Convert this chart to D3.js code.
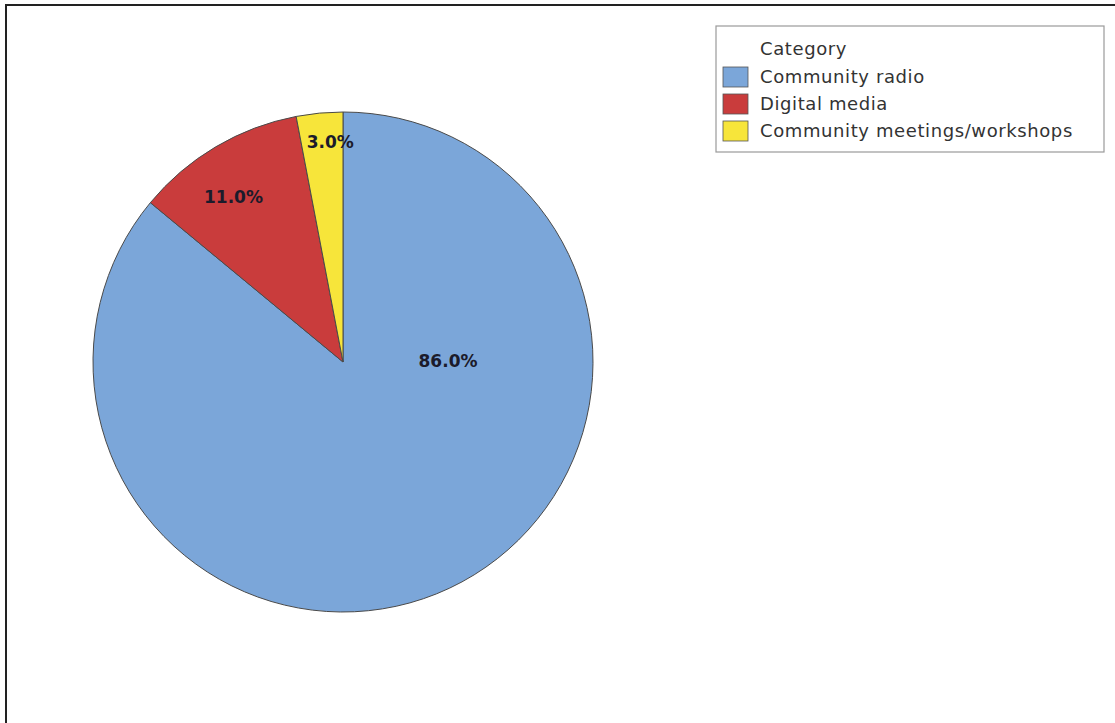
<!DOCTYPE html>
<html>
<head>
<meta charset="utf-8">
<script src="https://cdn.jsdelivr.net/npm/d3@7"></script>
<style>
  body { margin: 0; background: #fff; }
  svg { display: block; }
</style>
</head>
<body>
<script>
const w = 1115
const h = 723

// chart data
const categories = ['Community radio', 'Digital media', 'Community meetings/workshops']
const shares = [86.0, 11.0, 3.0]
const colors = ['#7ba6d9', '#c93c3c', '#f7e53a']
const legendTitle = 'Category'

const cx = 343
const cy = 362
const radius = 250

const svg = d3.select('body')
    .append('svg')
    .attr('width', w)
    .attr('height', h)

// outer frame (only top and left edges show in the picture)
svg.append('path')
    .attr('d', `M6,${h + 5} L6,5 L${w + 5},5`)
    .attr('fill', 'none')
    .attr('stroke', '#222')
    .attr('stroke-width', 2)

const pie = d3.pie()
    .sort(null)
    .value(function (d) { return d })

const arcs = pie(shares)

const arcGen = d3.arc()
    .innerRadius(0)
    .outerRadius(radius)

const color = d3.scaleOrdinal()
    .domain(d3.range(categories.length))
    .range(colors)

const g = svg.append('g')
    .attr('transform', `translate(${cx},${cy})`)

g.selectAll('path.slice')
    .data(arcs)
    .enter()
    .append('path')
    .attr('class', 'slice')
    .attr('d', arcGen)
    .attr('fill', function (d, i) { return color(i) })
    .attr('stroke', '#4a4a4a')
    .attr('stroke-width', 1)

// label placement: big slices go to the side, small ones sit near the rim
const labelNudge = [[0, -1], [-9, 5], [8, -1]]
function labelPos (d, i) {
    const span = d.endAngle - d.startAngle
    let a = (d.startAngle + d.endAngle) / 2
    let r = radius * (span < 0.3 ? 0.88 : 0.79)
    if (span > Math.PI) { a = Math.PI / 2; r = radius * 0.42 }
    return [Math.sin(a) * r + labelNudge[i][0], -Math.cos(a) * r + labelNudge[i][1]]
}

g.selectAll('text.lbl')
    .data(arcs)
    .enter()
    .append('text')
    .attr('class', 'lbl')
    .attr('transform', function (d, i) { return `translate(${labelPos(d, i)})` })
    .attr('text-anchor', 'middle')
    .attr('dy', '0.36em')
    .style('font-family', '"DejaVu Sans", sans-serif')
    .style('font-weight', 'bold')
    .style('font-size', '17px')
    .attr('fill', '#1b1b2b')
    .text(function (d) { return d.value.toFixed(1) + '%' })

// legend
const lg = svg.append('g')
    .attr('transform', 'translate(716,26)')

lg.append('rect')
    .attr('width', 388)
    .attr('height', 126)
    .attr('fill', '#fff')
    .attr('stroke', '#9a9a9a')
    .attr('stroke-width', 1.2)

const lgFont = '"DejaVu Sans", sans-serif'

lg.append('text')
    .attr('x', 44)
    .attr('y', 23)
    .attr('dy', '0.35em')
    .style('font-family', lgFont)
    .style('font-size', '18px')
    .style('letter-spacing', '0.6px')
    .attr('fill', '#333')
    .text(legendTitle)

const rows = lg.selectAll('g.row')
    .data(categories)
    .enter()
    .append('g')
    .attr('class', 'row')
    .attr('transform', function (d, i) { return `translate(0,${51 + i * 27})` })

rows.append('rect')
    .attr('x', 7)
    .attr('y', -10)
    .attr('width', 25)
    .attr('height', 20)
    .attr('fill', function (d, i) { return color(i) })
    .attr('stroke', '#555')
    .attr('stroke-width', 0.8)

rows.append('text')
    .attr('x', 44)
    .attr('dy', '0.35em')
    .style('font-family', lgFont)
    .style('font-size', '18px')
    .style('letter-spacing', '0.6px')
    .attr('fill', '#333')
    .text(function (d) { return d })
</script>
</body>
</html>
